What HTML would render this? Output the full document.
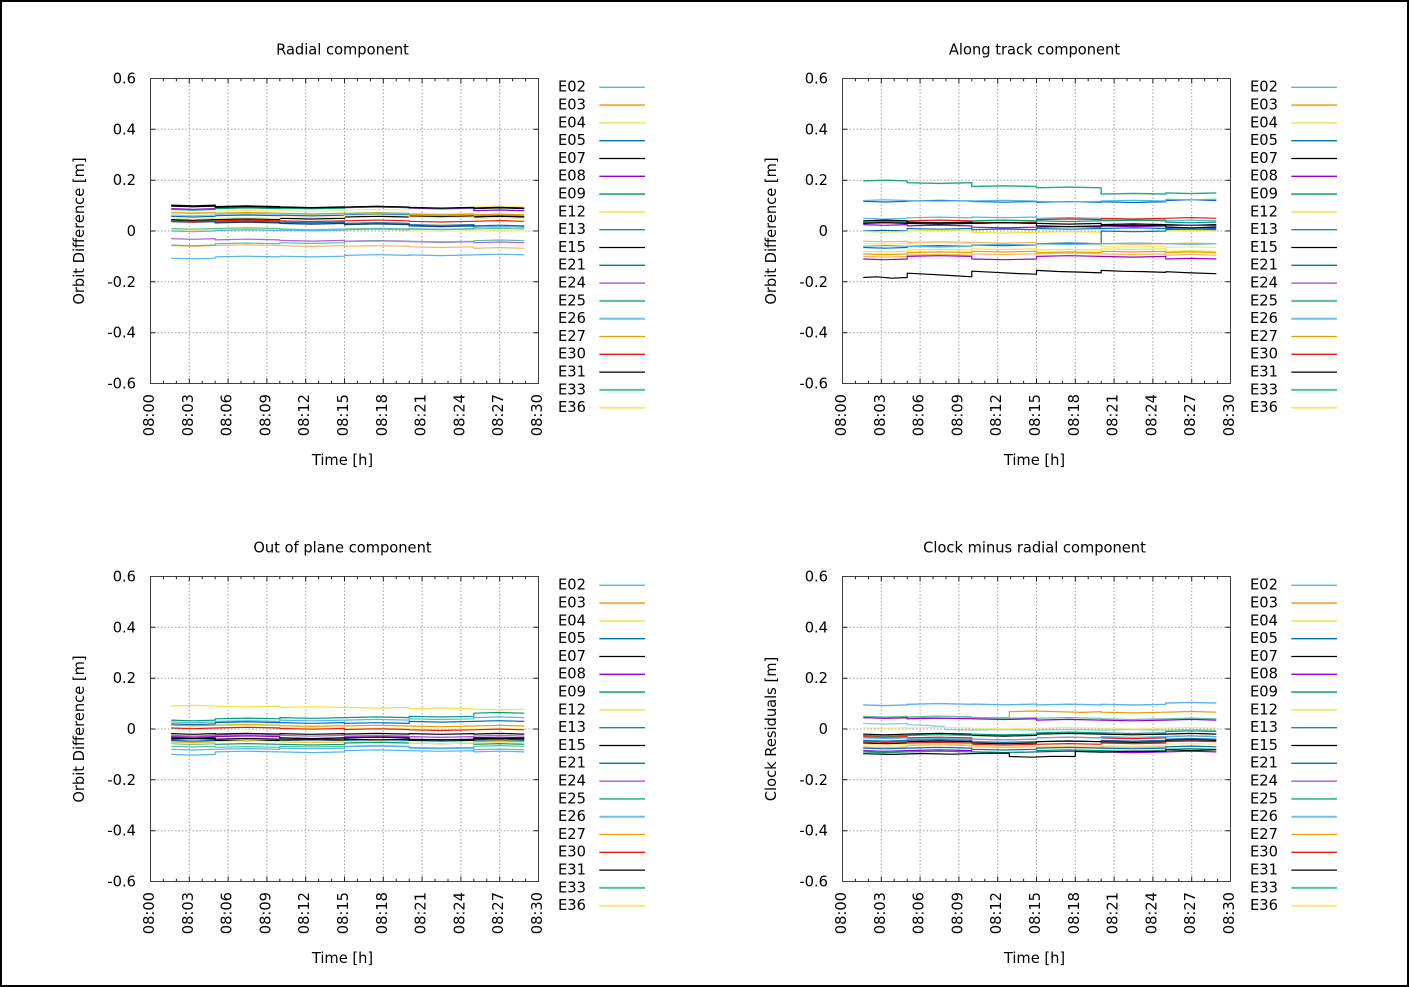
<!DOCTYPE html>
<html><head><meta charset="utf-8"><style>
html,body{margin:0;padding:0;background:#fff;}
svg{display:block;}
text{font-family:"DejaVu Sans","Liberation Sans",sans-serif;font-size:14.67px;fill:#000;}
</style></head><body>
<svg xmlns="http://www.w3.org/2000/svg" xmlns:xlink="http://www.w3.org/1999/xlink" width="1409" height="987" viewBox="0 0 1409 987">
<defs>
<g id="ax">
<path d="M189.3 78.5V383.5M228.1 78.5V383.5M266.9 78.5V383.5M305.7 78.5V383.5M344.5 78.5V383.5M383.3 78.5V383.5M422.1 78.5V383.5M460.9 78.5V383.5M499.7 78.5V383.5M150.5 129.3H538.5M150.5 180.2H538.5M150.5 231H538.5M150.5 281.8H538.5M150.5 332.7H538.5" stroke="#a0a0a0" stroke-width="1" stroke-dasharray="1.5,2" fill="none"/>
<rect x="150.5" y="78.5" width="388" height="305" fill="none" stroke="#404040" stroke-width="1"/>
<path d="M189.3 383.5v-5M189.3 78.5v5M228.1 383.5v-5M228.1 78.5v5M266.9 383.5v-5M266.9 78.5v5M305.7 383.5v-5M305.7 78.5v5M344.5 383.5v-5M344.5 78.5v5M383.3 383.5v-5M383.3 78.5v5M422.1 383.5v-5M422.1 78.5v5M460.9 383.5v-5M460.9 78.5v5M499.7 383.5v-5M499.7 78.5v5M150.5 129.3h5M538.5 129.3h-5M150.5 180.2h5M538.5 180.2h-5M150.5 231h5M538.5 231h-5M150.5 281.8h5M538.5 281.8h-5M150.5 332.7h5M538.5 332.7h-5" stroke="#202020" stroke-width="1" fill="none"/>
<path d="M163.4 383.5v-2.7M163.4 78.5v2.7M176.4 383.5v-2.7M176.4 78.5v2.7M202.2 383.5v-2.7M202.2 78.5v2.7M215.2 383.5v-2.7M215.2 78.5v2.7M241 383.5v-2.7M241 78.5v2.7M254 383.5v-2.7M254 78.5v2.7M279.8 383.5v-2.7M279.8 78.5v2.7M292.8 383.5v-2.7M292.8 78.5v2.7M318.6 383.5v-2.7M318.6 78.5v2.7M331.6 383.5v-2.7M331.6 78.5v2.7M357.4 383.5v-2.7M357.4 78.5v2.7M370.4 383.5v-2.7M370.4 78.5v2.7M396.2 383.5v-2.7M396.2 78.5v2.7M409.2 383.5v-2.7M409.2 78.5v2.7M435 383.5v-2.7M435 78.5v2.7M448 383.5v-2.7M448 78.5v2.7M473.8 383.5v-2.7M473.8 78.5v2.7M486.8 383.5v-2.7M486.8 78.5v2.7M512.6 383.5v-2.7M512.6 78.5v2.7M525.6 383.5v-2.7M525.6 78.5v2.7" stroke="#202020" stroke-width="1" fill="none"/>
<g fill="none" stroke-width="1.3">
<path d="M599.3 87.3H645" stroke="#56b4e9"/>
<path d="M599.3 105.1H645" stroke="#f0b050" stroke-width="2"/>
<path d="M599.3 122.9H645" stroke="#f3e97a" stroke-width="2"/>
<path d="M599.3 140.7H645" stroke="#0072b2"/>
<path d="M599.3 158.5H645" stroke="#000000"/>
<path d="M599.3 176.3H645" stroke="#9400d3"/>
<path d="M599.3 194.1H645" stroke="#40b090" stroke-width="2"/>
<path d="M599.3 211.9H645" stroke="#f3e97a" stroke-width="2"/>
<path d="M599.3 229.7H645" stroke="#2080c0"/>
<path d="M599.3 247.5H645" stroke="#000000"/>
<path d="M599.3 265.3H645" stroke="#0072b2"/>
<path d="M599.3 283.1H645" stroke="#a040e0"/>
<path d="M599.3 300.9H645" stroke="#50c0a0" stroke-width="2"/>
<path d="M599.3 318.7H645" stroke="#70c0ee" stroke-width="2"/>
<path d="M599.3 336.5H645" stroke="#e69f00"/>
<path d="M599.3 354.3H645" stroke="#e51e10"/>
<path d="M599.3 372.1H645" stroke="#000000"/>
<path d="M599.3 389.9H645" stroke="#50c0a0" stroke-width="2"/>
<path d="M599.3 407.7H645" stroke="#f3e97a" stroke-width="2"/>
</g>
</g>
</defs>
<rect x="1" y="1" width="1407" height="985" fill="#fff" stroke="#000" stroke-width="2"/>

<use xlink:href="#ax" href="#ax"/>
<use xlink:href="#ax" href="#ax" transform="translate(692,0)"/>
<use xlink:href="#ax" href="#ax" transform="translate(0,498)"/>
<use xlink:href="#ax" href="#ax" transform="translate(692,498)"/>

<!-- DATA panel 1 -->
<g fill="none" stroke-width="1.2" stroke-linejoin="round">
<polyline stroke="#56b4e9" points="171.2,258.2 193,258.9 215.2,258.2 215.2,256.9 247,256.2 279.8,256.9 279.8,256.2 312,256.9 344.5,256.2 344.5,255.4 377,254.7 409.2,255.4 409.2,254.9 441,255.6 473.8,254.9 473.8,254.9 499,254.2 524.3,254.9"/>
<polyline stroke="#f0b860" points="171.2,245.7 193,246.4 215.2,245.7 215.2,245.5 247,244.8 279.8,245.5 279.8,245.7 312,246.4 344.5,245.7 344.5,246.3 377,245.6 409.2,246.3 409.2,246.8 441,247.5 473.8,246.8 473.8,248.3 499,247.6 524.3,248.3"/>
<polyline stroke="#f3e985" points="171.2,211.9 193,212.6 215.2,211.9 215.2,211.2 247,210.5 279.8,211.2 279.8,210.7 312,211.4 344.5,210.7 344.5,210.2 377,209.5 409.2,210.2 409.2,208.6 441,209.3 473.8,208.6 473.8,206.9 499,206.2 524.3,206.9"/>
<polyline stroke="#0072b2" points="171.2,216.3 193,217 215.2,216.3 215.2,215.7 247,215 279.8,215.7 279.8,215.2 312,215.9 344.5,215.2 344.5,215 377,214.3 409.2,215 409.2,215.7 441,216.4 473.8,215.7 473.8,216.3 499,215.6 524.3,216.3"/>
<polyline stroke="#000000" points="171.2,205.1 193,205.8 215.2,205.1 215.2,206.6 247,205.9 279.8,206.6 279.8,206.9 312,207.6 344.5,206.9 344.5,207.1 377,206.4 409.2,207.1 409.2,207.6 441,208.3 473.8,207.6 473.8,208.6 499,207.9 524.3,208.6"/>
<polyline stroke="#9400d3" points="171.2,208.6 193,209.3 215.2,208.6 215.2,207.6 247,206.9 279.8,207.6 279.8,207.4 312,208.1 344.5,207.4 344.5,207.6 377,206.9 409.2,207.6 409.2,208.1 441,208.8 473.8,208.1 473.8,210.7 499,210 524.3,210.7"/>
<polyline stroke="#009e73" points="171.2,209.4 193,210.1 215.2,209.4 215.2,208.6 247,207.9 279.8,208.6 279.8,208.1 312,208.8 344.5,208.1 344.5,207.6 377,206.9 409.2,207.6 409.2,207.6 441,208.3 473.8,207.6 473.8,208.1 499,207.4 524.3,208.1"/>
<polyline stroke="#f3e985" points="171.2,229.7 193,230.4 215.2,229.7 247,229 279.8,229.7 312,230.4 344.5,229.7 344.5,230 377,229.3 409.2,230 409.2,230.5 441,231.2 473.8,230.5 473.8,231 499,230.3 524.3,231"/>
<polyline stroke="#0072b2" points="171.2,220.8 193,221.5 215.2,220.8 215.2,221.9 247,221.2 279.8,221.9 279.8,222.1 312,222.8 344.5,222.1 344.5,223.4 377,222.7 409.2,223.4 409.2,224.6 441,225.3 473.8,224.6 473.8,225.9 499,225.2 524.3,225.9"/>
<polyline stroke="#000000" points="171.2,219.6 193,220.3 215.2,219.6 247,218.9 279.8,219.6 279.8,218.3 312,219 344.5,218.3 344.5,217 377,216.3 409.2,217 409.2,216.3 441,217 473.8,216.3 473.8,217 499,216.3 524.3,217"/>
<polyline stroke="#1a3a5a" points="171.2,221.6 193,222.3 215.2,221.6 215.2,222.9 247,222.2 279.8,222.9 279.8,223.4 312,224.1 344.5,223.4 344.5,224.6 377,223.9 409.2,224.6 409.2,225.9 441,226.6 473.8,225.9 473.8,227.2 499,226.5 524.3,227.2"/>
<polyline stroke="#b060e0" points="171.2,238.6 193,239.3 215.2,238.6 215.2,239.9 247,239.2 279.8,239.9 279.8,240.4 312,241.1 344.5,240.4 344.5,241.2 377,240.5 409.2,241.2 409.2,241.7 441,242.4 473.8,241.7 473.8,242.7 499,242 524.3,242.7"/>
<polyline stroke="#5cc0a0" points="171.2,245 193,245.7 215.2,245 215.2,243.7 247,243 279.8,243.7 279.8,242.7 312,243.4 344.5,242.7 344.5,241.7 377,241 409.2,241.7 409.2,241.2 441,241.9 473.8,241.2 473.8,240.7 499,240 524.3,240.7"/>
<polyline stroke="#80c8ee" points="171.2,215 193,215.7 215.2,215 215.2,214.5 247,213.8 279.8,214.5 279.8,213.7 312,214.4 344.5,213.7 344.5,213.2 377,212.5 409.2,213.2 409.2,213.7 441,214.4 473.8,213.7 473.8,215.2 499,214.5 524.3,215.2"/>
<polyline stroke="#e69f00" points="171.2,212.7 193,213.4 215.2,212.7 215.2,213.2 247,212.5 279.8,213.2 312,213.9 344.5,213.2 344.5,213.7 377,213 409.2,213.7 409.2,214.2 441,214.9 473.8,214.2 473.8,214.7 499,214 524.3,214.7"/>
<polyline stroke="#e51e10" points="171.2,221.3 193,222 215.2,221.3 215.2,220.8 247,220.1 279.8,220.8 312,221.5 344.5,220.8 377,220.1 409.2,220.8 409.2,221.3 441,222 473.8,221.3 499,220.6 524.3,221.3"/>
<polyline stroke="#000000" points="171.2,206.1 193,206.8 215.2,206.1 215.2,207.1 247,206.4 279.8,207.1 312,207.8 344.5,207.1 377,206.4 409.2,207.1 409.2,207.4 441,208.1 473.8,207.4 473.8,208.1 499,207.4 524.3,208.1"/>
<polyline stroke="#5cc0a0" points="171.2,228.5 193,229.2 215.2,228.5 247,227.8 279.8,228.5 279.8,229 312,229.7 344.5,229 377,228.3 409.2,229 441,229.7 473.8,229 499,228.3 524.3,229"/>
<polyline stroke="#f3e985" points="171.2,218.3 193,219 215.2,218.3 247,217.6 279.8,218.3 279.8,217 312,217.7 344.5,217 344.5,215.7 377,215 409.2,215.7 409.2,217 441,217.7 473.8,217 473.8,218.3 499,217.6 524.3,218.3"/>
<polyline stroke="#56b4e9" points="171.2,231 193,231.7 215.2,231 215.2,230.5 247,229.8 279.8,230.5 279.8,230.2 312,230.9 344.5,230.2 344.5,229.7 377,229 409.2,229.7 409.2,228.5 441,229.2 473.8,228.5 473.8,227.2 499,226.5 524.3,227.2"/>
</g>

<!-- DATA panel 2 -->
<g fill="none" stroke-width="1.2" stroke-linejoin="round" transform="translate(692,0)">
<polyline stroke="#20a880" stroke-width="1.4" points="171.2,180.9 193,180.2 215.2,180.9 215.2,182.7 247,183.4 279.8,182.7 279.8,186.5 312,185.8 344.5,186.5 344.5,187.8 377,187.1 409.2,187.8 409.2,194.1 441,193.4 473.8,194.1 473.8,192.9 499,193.6 524.3,192.9"/>
<polyline stroke="#0072b2" points="171.2,201.3 193,202 215.2,201.3 215.2,201 247,200.3 279.8,201 279.8,201.5 312,202.2 344.5,201.5 344.5,202.3 377,201.6 409.2,202.3 409.2,201.8 441,202.5 473.8,201.8 473.8,200.5 499,199.8 524.3,200.5"/>
<polyline stroke="#56b4e9" points="171.2,200.5 193,199.8 215.2,200.5 247,201.2 279.8,200.5 279.8,201 312,200.3 344.5,201 344.5,201.3 377,202 409.2,201.3 409.2,201 441,200.3 473.8,201 473.8,199.2 499,199.9 524.3,199.2"/>
<polyline stroke="#56b4e9" points="171.2,218.3 193,219 215.2,218.3 215.2,217.8 247,217.1 279.8,217.8 279.8,217 312,217.7 344.5,217 344.5,218.3 377,217.6 409.2,218.3 409.2,219.6 441,220.3 473.8,219.6 473.8,220.8 499,220.1 524.3,220.8"/>
<polyline stroke="#e51e10" points="171.2,222.1 193,222.8 215.2,222.1 215.2,220.8 247,220.1 279.8,220.8 279.8,222.1 312,222.8 344.5,222.1 344.5,219.6 377,218.9 409.2,219.6 409.2,218.3 441,219 473.8,218.3 499,217.6 524.3,218.3"/>
<polyline stroke="#009e73" points="171.2,222.1 193,221.4 215.2,222.1 247,222.8 279.8,222.1 279.8,220.8 312,220.1 344.5,220.8 377,221.5 409.2,220.8 441,220.1 473.8,220.8 473.8,222.1 499,222.8 524.3,222.1"/>
<polyline stroke="#000000" points="171.2,223.4 193,222.7 215.2,223.4 215.2,222.1 247,222.8 279.8,222.1 279.8,223.4 312,222.7 344.5,223.4 377,224.1 409.2,223.4 409.2,224.6 441,223.9 473.8,224.6 499,225.3 524.3,224.6"/>
<polyline stroke="#9400d3" points="171.2,224.6 193,225.3 215.2,224.6 215.2,225.9 247,225.2 279.8,225.9 279.8,227.2 312,227.9 344.5,227.2 377,226.5 409.2,227.2 409.2,225.9 441,226.6 473.8,225.9 499,225.2 524.3,225.9"/>
<polyline stroke="#0072b2" points="171.2,231 193,230.3 215.2,231 215.2,228.5 247,229.2 279.8,228.5 279.8,229.7 312,229 344.5,229.7 344.5,228.5 377,229.2 409.2,228.5 441,227.8 473.8,228.5 499,229.2 524.3,228.5"/>
<polyline stroke="#000000" points="171.2,220.8 193,220.1 215.2,220.8 215.2,223.4 247,224.1 279.8,223.4 312,222.7 344.5,223.4 344.5,225.9 377,226.6 409.2,225.9 441,225.2 473.8,225.9 473.8,227.2 499,227.9 524.3,227.2"/>
<polyline stroke="#f0e442" points="171.2,231.5 193,232.2 215.2,231.5 215.2,231 247,230.3 279.8,231 279.8,232.3 312,233 344.5,232.3 377,231.6 409.2,232.3 409.2,231 441,231.7 473.8,231 499,230.3 524.3,231"/>
<polyline stroke="#f0b860" points="171.2,241.2 193,241.9 215.2,241.2 215.2,242.4 247,241.7 279.8,242.4 312,243.1 344.5,242.4 344.5,243.7 377,243 409.2,243.7 441,244.4 473.8,243.7 499,243 524.3,243.7"/>
<polyline stroke="#f3e985" points="171.2,243.7 193,244.4 215.2,243.7 247,243 279.8,243.7 279.8,245 312,245.7 344.5,245 377,244.3 409.2,245 409.2,246.3 441,247 473.8,246.3 473.8,247.5 499,246.8 524.3,247.5"/>
<polyline stroke="#0072b2" points="171.2,247.5 193,248.2 215.2,247.5 215.2,246.3 247,245.6 279.8,246.3 279.8,245 312,245.7 344.5,245 344.5,243.7 377,243 409.2,243.7 409.2,231 441,231.7 473.8,231 473.8,229.7 499,229 524.3,229.7"/>
<polyline stroke="#56b4e9" points="171.2,246.3 193,245.6 215.2,246.3 247,247 279.8,246.3 279.8,245 312,244.3 344.5,245 344.5,243.7 377,244.4 409.2,243.7 441,243 473.8,243.7 499,244.4 524.3,243.7"/>
<polyline stroke="#f0e442" points="171.2,251.3 193,252 215.2,251.3 215.2,250.1 247,249.4 279.8,250.1 279.8,248.8 312,249.5 344.5,248.8 344.5,250.1 377,249.4 409.2,250.1 409.2,248.8 441,249.5 473.8,248.8 473.8,251.3 499,250.6 524.3,251.3"/>
<polyline stroke="#e69f00" points="171.2,253.9 193,254.6 215.2,253.9 215.2,252.6 247,251.9 279.8,252.6 279.8,251.3 312,252 344.5,251.3 344.5,252.6 377,251.9 409.2,252.6 409.2,251.3 441,252 473.8,251.3 473.8,252.6 499,251.9 524.3,252.6"/>
<polyline stroke="#f0b860" points="171.2,256.4 193,257.1 215.2,256.4 215.2,255.1 247,254.4 279.8,255.1 279.8,253.9 312,254.6 344.5,253.9 377,253.2 409.2,253.9 441,254.6 473.8,253.9 473.8,255.1 499,254.4 524.3,255.1"/>
<polyline stroke="#9400d3" points="171.2,259 193,259.7 215.2,259 215.2,256.4 247,255.7 279.8,256.4 279.8,259 312,259.7 344.5,259 344.5,256.4 377,255.7 409.2,256.4 441,257.1 473.8,256.4 473.8,259 499,258.3 524.3,259"/>
<polyline stroke="#000000" points="171.2,277.5 185,276.8 200,278.2 215.2,277.5 215.2,273.2 235,274.2 258,275.5 279.8,276.8 279.8,271.2 300,272.2 322,273.4 344.5,274.2 344.5,270.4 366,271.5 388,272.1 409.2,272.9 409.2,270.4 431,271.3 452,271.6 473.8,272.4 473.8,271.7 499,272.9 524.3,273.7"/>
</g>

<!-- DATA panel 3 -->
<g fill="none" stroke-width="1.2" stroke-linejoin="round" transform="translate(0,498)">
<polyline stroke="#f0e442" points="171.2,208.1 193,207.4 215.2,208.1 247,208.8 279.8,208.1 279.8,209.4 312,208.7 344.5,209.4 377,210.1 409.2,209.4 409.2,210.7 441,210 473.8,210.7 473.8,211.2 499,211.9 524.3,211.2"/>
<polyline stroke="#009e73" points="171.2,222.1 193,222.8 215.2,222.1 215.2,220.8 247,220.1 279.8,220.8 279.8,219.6 312,220.3 344.5,219.6 377,218.9 409.2,219.6 409.2,218.3 441,219 473.8,218.3 473.8,215.2 499,214.5 524.3,215.2"/>
<polyline stroke="#56b4e9" points="171.2,223.9 193,224.6 215.2,223.9 215.2,223.4 247,222.7 279.8,223.4 279.8,222.1 312,222.8 344.5,222.1 377,221.4 409.2,222.1 409.2,220.8 441,221.5 473.8,220.8 473.8,219.6 499,218.9 524.3,219.6"/>
<polyline stroke="#0072b2" points="171.2,225.9 193,226.6 215.2,225.9 215.2,224.6 247,223.9 279.8,224.6 312,225.3 344.5,224.6 344.5,225.4 377,224.7 409.2,225.4 409.2,223.4 441,224.1 473.8,223.4 499,222.7 524.3,223.4"/>
<polyline stroke="#e69f00" points="171.2,227.2 193,227.9 215.2,227.2 247,226.5 279.8,227.2 279.8,227.7 312,228.4 344.5,227.7 344.5,228 377,227.3 409.2,228 441,228.7 473.8,228 499,227.3 524.3,228"/>
<polyline stroke="#f3e985" points="171.2,229.7 193,230.4 215.2,229.7 247,229 279.8,229.7 312,230.4 344.5,229.7 344.5,231 377,230.3 409.2,231 441,231.7 473.8,231 499,230.3 524.3,231"/>
<polyline stroke="#e51e10" points="171.2,230 193,230.7 215.2,230 247,229.3 279.8,230 279.8,230.5 312,231.2 344.5,230.5 344.5,231.5 377,230.8 409.2,231.5 409.2,231.8 441,232.5 473.8,231.8 499,231.1 524.3,231.8"/>
<polyline stroke="#000000" points="171.2,235.6 193,236.3 215.2,235.6 215.2,236.1 247,235.4 279.8,236.1 279.8,235.6 312,236.3 344.5,235.6 344.5,236.1 377,235.4 409.2,236.1 409.2,235.6 441,236.3 473.8,235.6 473.8,236.1 499,235.4 524.3,236.1"/>
<polyline stroke="#9400d3" points="171.2,238.6 193,239.3 215.2,238.6 247,237.9 279.8,238.6 279.8,239.9 312,240.6 344.5,239.9 344.5,238.6 377,237.9 409.2,238.6 441,239.3 473.8,238.6 473.8,239.9 499,239.2 524.3,239.9"/>
<polyline stroke="#000000" points="171.2,239.9 193,240.6 215.2,239.9 215.2,241.2 247,240.5 279.8,241.2 279.8,239.9 312,240.6 344.5,239.9 377,239.2 409.2,239.9 409.2,241.2 441,241.9 473.8,241.2 499,240.5 524.3,241.2"/>
<polyline stroke="#0072b2" points="171.2,242.4 193,243.1 215.2,242.4 247,241.7 279.8,242.4 279.8,241.2 312,241.9 344.5,241.2 344.5,242.4 377,241.7 409.2,242.4 441,243.1 473.8,242.4 499,241.7 524.3,242.4"/>
<polyline stroke="#e69f00" points="171.2,243.7 193,244.4 215.2,243.7 215.2,242.4 247,241.7 279.8,242.4 279.8,243.7 312,244.4 344.5,243.7 344.5,245 377,244.3 409.2,245 441,245.7 473.8,245 473.8,243.7 499,243 524.3,243.7"/>
<polyline stroke="#009e73" points="171.2,245.5 193,246.2 215.2,245.5 215.2,246.3 247,245.6 279.8,246.3 312,247 344.5,246.3 344.5,245 377,244.3 409.2,245 441,245.7 473.8,245 473.8,246.3 499,245.6 524.3,246.3"/>
<polyline stroke="#000000" points="171.2,241.2 193,240.5 215.2,241.2 215.2,242.4 247,243.1 279.8,242.4 312,241.7 344.5,242.4 344.5,241.2 377,241.9 409.2,241.2 409.2,242.4 441,241.7 473.8,242.4 473.8,239.9 499,240.6 524.3,239.9"/>
<polyline stroke="#5cc0a0" points="171.2,248.3 193,249 215.2,248.3 215.2,249.3 247,248.6 279.8,249.3 279.8,248.3 312,249 344.5,248.3 377,247.6 409.2,248.3 409.2,249.3 441,250 473.8,249.3 473.8,248.3 499,247.6 524.3,248.3"/>
<polyline stroke="#56b4e9" points="171.2,251.3 193,252 215.2,251.3 247,250.6 279.8,251.3 279.8,250.1 312,250.8 344.5,250.1 344.5,248.8 377,248.1 409.2,248.8 409.2,250.1 441,250.8 473.8,250.1 473.8,251.8 499,251.1 524.3,251.8"/>
<polyline stroke="#56b4e9" points="171.2,256.4 193,257.1 215.2,256.4 215.2,253.9 247,253.2 279.8,253.9 312,254.6 344.5,253.9 344.5,252.6 377,251.9 409.2,252.6 441,253.3 473.8,252.6 473.8,253.9 499,253.2 524.3,253.9"/>
<polyline stroke="#b060e0" points="171.2,237.4 193,238.1 215.2,237.4 247,236.7 279.8,237.4 312,238.1 344.5,237.4 344.5,238.1 377,237.4 409.2,238.1 409.2,238.6 441,239.3 473.8,238.6 473.8,238.1 499,237.4 524.3,238.1"/>
<polyline stroke="#f3e985" points="171.2,245 193,245.7 215.2,245 215.2,243.7 247,243 279.8,243.7 279.8,243.2 312,243.9 344.5,243.2 344.5,243.7 377,243 409.2,243.7 409.2,245 441,245.7 473.8,245 499,244.3 524.3,245"/>
</g>

<!-- DATA panel 4 -->
<g fill="none" stroke-width="1.2" stroke-linejoin="round" transform="translate(692,498)">
<polyline stroke="#56b4e9" stroke-width="1.4" points="171.2,206.9 193,207.6 215.2,206.9 215.2,206.3 247,205.6 279.8,206.3 279.8,206.1 312,206.8 344.5,206.1 344.5,206.9 377,206.2 409.2,206.9 409.2,206.3 441,207 473.8,206.3 473.8,205.1 499,204.4 524.3,205.1"/>
<polyline stroke="#e69f00" points="171.2,219.6 200,220.3 230,219.6 260,220.3 290,219.6 317.3,219.6 317.3,213.7 340,213 365,213.7 390,214.4 409.2,213.7 409.2,214.2 441,214.9 473.8,214.2 499,213.5 524.3,214.2"/>
<polyline stroke="#5cc0a0" points="171.2,218.3 193,219 215.2,218.3 215.2,218.8 247,218.1 279.8,218.8 279.8,219.6 312,220.3 344.5,219.6 344.5,220.3 377,219.6 409.2,220.3 409.2,220.8 441,221.5 473.8,220.8 499,220.1 524.3,220.8"/>
<polyline stroke="#9400d3" points="171.2,219.6 193,220.3 215.2,219.6 215.2,220.8 247,220.1 279.8,220.8 312,221.5 344.5,220.8 344.5,222.1 377,221.4 409.2,222.1 441,222.8 473.8,222.1 499,221.4 524.3,222.1"/>
<polyline stroke="#80c8ee" points="171.2,225.4 193,226.1 215.2,225.4 215.2,226.7 235,227.4 252.7,228.5 252.7,231.5 280,232.2 312,231.5 344.5,232.2 377,231.5 409.2,232.2 441,231.5 473.8,232.2 499,231.5 524.3,232.2"/>
<polyline stroke="#f3e985" points="171.2,229.7 193,230.4 215.2,229.7 215.2,230 247,229.3 279.8,230 279.8,230.2 312,230.9 344.5,230.2 377,229.5 409.2,230.2 441,230.9 473.8,230.2 499,229.5 524.3,230.2"/>
<polyline stroke="#000000" points="171.2,236.1 193,236.8 215.2,236.1 247,235.4 279.8,236.1 279.8,237.4 312,238.1 344.5,237.4 344.5,236.1 377,235.4 409.2,236.1 441,236.8 473.8,236.1 499,235.4 524.3,236.1"/>
<polyline stroke="#009e73" points="171.2,237.4 193,238.1 215.2,237.4 247,236.7 279.8,237.4 279.8,236.1 312,236.8 344.5,236.1 344.5,234.8 377,234.1 409.2,234.8 441,235.5 473.8,234.8 473.8,233.5 499,232.8 524.3,233.5"/>
<polyline stroke="#e51e10" points="171.2,238.6 193,239.3 215.2,238.6 215.2,239.9 247,239.2 279.8,239.9 279.8,241.2 312,241.9 344.5,241.2 344.5,239.9 377,239.2 409.2,239.9 441,240.6 473.8,239.9 473.8,238.6 499,237.9 524.3,238.6"/>
<polyline stroke="#56b4e9" points="171.2,239.9 193,240.6 215.2,239.9 215.2,241.2 247,240.5 279.8,241.2 312,241.9 344.5,241.2 344.5,239.9 377,239.2 409.2,239.9 409.2,238.6 441,239.3 473.8,238.6 499,237.9 524.3,238.6"/>
<polyline stroke="#0072b2" points="171.2,242.4 193,243.1 215.2,242.4 247,241.7 279.8,242.4 279.8,243.7 312,244.4 344.5,243.7 377,243 409.2,243.7 409.2,242.4 441,243.1 473.8,242.4 473.8,241.2 499,240.5 524.3,241.2"/>
<polyline stroke="#000000" points="171.2,245 193,245.7 215.2,245 215.2,243.7 247,243 279.8,243.7 279.8,245 312,245.7 344.5,245 344.5,243.7 377,243 409.2,243.7 441,244.4 473.8,243.7 473.8,242.4 499,241.7 524.3,242.4"/>
<polyline stroke="#e51e10" points="171.2,243.7 193,244.4 215.2,243.7 215.2,245 247,244.3 279.8,245 279.8,246.3 312,247 344.5,246.3 377,245.6 409.2,246.3 409.2,245 441,245.7 473.8,245 473.8,243.7 499,243 524.3,243.7"/>
<polyline stroke="#f3e985" points="171.2,246.3 193,247 215.2,246.3 247,245.6 279.8,246.3 279.8,247.5 312,248.2 344.5,247.5 344.5,248.8 377,248.1 409.2,248.8 409.2,247.5 441,248.2 473.8,247.5 473.8,246.3 499,245.6 524.3,246.3"/>
<polyline stroke="#f0b860" points="171.2,248.8 193,249.5 215.2,248.8 215.2,247.5 247,246.8 279.8,247.5 279.8,248.8 312,249.5 344.5,248.8 344.5,250.1 377,249.4 409.2,250.1 409.2,248.8 441,249.5 473.8,248.8 499,248.1 524.3,248.8"/>
<polyline stroke="#0072b2" points="171.2,250.1 193,250.8 215.2,250.1 247,249.4 279.8,250.1 279.8,251.3 312,252 344.5,251.3 344.5,250.1 377,249.4 409.2,250.1 441,250.8 473.8,250.1 473.8,248.8 499,248.1 524.3,248.8"/>
<polyline stroke="#9400d3" points="171.2,252.6 193,253.3 215.2,252.6 247,251.9 279.8,252.6 279.8,253.9 312,254.6 344.5,253.9 377,253.2 409.2,253.9 441,254.6 473.8,253.9 499,253.2 524.3,253.9"/>
<polyline stroke="#009e73" points="171.2,253.9 193,254.6 215.2,253.9 247,253.2 279.8,253.9 312,254.6 344.5,253.9 344.5,252.6 377,251.9 409.2,252.6 441,253.3 473.8,252.6 473.8,251.3 499,250.6 524.3,251.3"/>
<polyline stroke="#000000" points="171.2,255.7 200,256.4 230,255.5 260,256.2 290,255.3 317.3,255.1 317.3,258.5 340,259.2 360,258.3 383.3,258.5 383.3,253.4 409,254.1 441,253.2 473.8,253.4 473.8,251.8 499,252.5 524.3,251.8"/>
</g>

<!-- Panel 1 text -->
<g>
<text x="342.5" y="54.5" text-anchor="middle">Radial component</text>
<text transform="translate(84,231) rotate(-90)" text-anchor="middle">Orbit Difference [m]</text>
<text x="342.5" y="465" text-anchor="middle">Time [h]</text>
<text text-anchor="end"><tspan x="136" y="83.5">0.6</tspan><tspan x="136" y="134.3">0.4</tspan><tspan x="136" y="185.2">0.2</tspan><tspan x="136" y="236">0</tspan><tspan x="136" y="286.8">-0.2</tspan><tspan x="136" y="337.7">-0.4</tspan><tspan x="136" y="388.5">-0.6</tspan></text>
<text text-anchor="end" transform="rotate(-90)"><tspan x="-394" y="154">08:00</tspan><tspan x="-394" y="192.8">08:03</tspan><tspan x="-394" y="231.6">08:06</tspan><tspan x="-394" y="270.4">08:09</tspan><tspan x="-394" y="309.2">08:12</tspan><tspan x="-394" y="348">08:15</tspan><tspan x="-394" y="386.8">08:18</tspan><tspan x="-394" y="425.6">08:21</tspan><tspan x="-394" y="464.4">08:24</tspan><tspan x="-394" y="503.2">08:27</tspan><tspan x="-394" y="542">08:30</tspan></text>
<text><tspan x="558" y="91.7">E02</tspan><tspan x="558" y="109.5">E03</tspan><tspan x="558" y="127.3">E04</tspan><tspan x="558" y="145.1">E05</tspan><tspan x="558" y="162.9">E07</tspan><tspan x="558" y="180.7">E08</tspan><tspan x="558" y="198.5">E09</tspan><tspan x="558" y="216.3">E12</tspan><tspan x="558" y="234.1">E13</tspan><tspan x="558" y="251.9">E15</tspan><tspan x="558" y="269.7">E21</tspan><tspan x="558" y="287.5">E24</tspan><tspan x="558" y="305.3">E25</tspan><tspan x="558" y="323.1">E26</tspan><tspan x="558" y="340.9">E27</tspan><tspan x="558" y="358.7">E30</tspan><tspan x="558" y="376.5">E31</tspan><tspan x="558" y="394.3">E33</tspan><tspan x="558" y="412.1">E36</tspan></text>
</g>

<!-- Panel 2 text -->
<g transform="translate(692,0)">
<text x="342.5" y="54.5" text-anchor="middle">Along track component</text>
<text transform="translate(84,231) rotate(-90)" text-anchor="middle">Orbit Difference [m]</text>
<text x="342.5" y="465" text-anchor="middle">Time [h]</text>
<text text-anchor="end"><tspan x="136" y="83.5">0.6</tspan><tspan x="136" y="134.3">0.4</tspan><tspan x="136" y="185.2">0.2</tspan><tspan x="136" y="236">0</tspan><tspan x="136" y="286.8">-0.2</tspan><tspan x="136" y="337.7">-0.4</tspan><tspan x="136" y="388.5">-0.6</tspan></text>
<text text-anchor="end" transform="rotate(-90)"><tspan x="-394" y="154">08:00</tspan><tspan x="-394" y="192.8">08:03</tspan><tspan x="-394" y="231.6">08:06</tspan><tspan x="-394" y="270.4">08:09</tspan><tspan x="-394" y="309.2">08:12</tspan><tspan x="-394" y="348">08:15</tspan><tspan x="-394" y="386.8">08:18</tspan><tspan x="-394" y="425.6">08:21</tspan><tspan x="-394" y="464.4">08:24</tspan><tspan x="-394" y="503.2">08:27</tspan><tspan x="-394" y="542">08:30</tspan></text>
<text><tspan x="558" y="91.7">E02</tspan><tspan x="558" y="109.5">E03</tspan><tspan x="558" y="127.3">E04</tspan><tspan x="558" y="145.1">E05</tspan><tspan x="558" y="162.9">E07</tspan><tspan x="558" y="180.7">E08</tspan><tspan x="558" y="198.5">E09</tspan><tspan x="558" y="216.3">E12</tspan><tspan x="558" y="234.1">E13</tspan><tspan x="558" y="251.9">E15</tspan><tspan x="558" y="269.7">E21</tspan><tspan x="558" y="287.5">E24</tspan><tspan x="558" y="305.3">E25</tspan><tspan x="558" y="323.1">E26</tspan><tspan x="558" y="340.9">E27</tspan><tspan x="558" y="358.7">E30</tspan><tspan x="558" y="376.5">E31</tspan><tspan x="558" y="394.3">E33</tspan><tspan x="558" y="412.1">E36</tspan></text>
</g>

<!-- Panel 3 text -->
<g transform="translate(0,498)">
<text x="342.5" y="54.5" text-anchor="middle">Out of plane component</text>
<text transform="translate(84,231) rotate(-90)" text-anchor="middle">Orbit Difference [m]</text>
<text x="342.5" y="465" text-anchor="middle">Time [h]</text>
<text text-anchor="end"><tspan x="136" y="83.5">0.6</tspan><tspan x="136" y="134.3">0.4</tspan><tspan x="136" y="185.2">0.2</tspan><tspan x="136" y="236">0</tspan><tspan x="136" y="286.8">-0.2</tspan><tspan x="136" y="337.7">-0.4</tspan><tspan x="136" y="388.5">-0.6</tspan></text>
<text text-anchor="end" transform="rotate(-90)"><tspan x="-394" y="154">08:00</tspan><tspan x="-394" y="192.8">08:03</tspan><tspan x="-394" y="231.6">08:06</tspan><tspan x="-394" y="270.4">08:09</tspan><tspan x="-394" y="309.2">08:12</tspan><tspan x="-394" y="348">08:15</tspan><tspan x="-394" y="386.8">08:18</tspan><tspan x="-394" y="425.6">08:21</tspan><tspan x="-394" y="464.4">08:24</tspan><tspan x="-394" y="503.2">08:27</tspan><tspan x="-394" y="542">08:30</tspan></text>
<text><tspan x="558" y="91.7">E02</tspan><tspan x="558" y="109.5">E03</tspan><tspan x="558" y="127.3">E04</tspan><tspan x="558" y="145.1">E05</tspan><tspan x="558" y="162.9">E07</tspan><tspan x="558" y="180.7">E08</tspan><tspan x="558" y="198.5">E09</tspan><tspan x="558" y="216.3">E12</tspan><tspan x="558" y="234.1">E13</tspan><tspan x="558" y="251.9">E15</tspan><tspan x="558" y="269.7">E21</tspan><tspan x="558" y="287.5">E24</tspan><tspan x="558" y="305.3">E25</tspan><tspan x="558" y="323.1">E26</tspan><tspan x="558" y="340.9">E27</tspan><tspan x="558" y="358.7">E30</tspan><tspan x="558" y="376.5">E31</tspan><tspan x="558" y="394.3">E33</tspan><tspan x="558" y="412.1">E36</tspan></text>
</g>

<!-- Panel 4 text -->
<g transform="translate(692,498)">
<text x="342.5" y="54.5" text-anchor="middle">Clock minus radial component</text>
<text transform="translate(84,231) rotate(-90)" text-anchor="middle">Clock Residuals [m]</text>
<text x="342.5" y="465" text-anchor="middle">Time [h]</text>
<text text-anchor="end"><tspan x="136" y="83.5">0.6</tspan><tspan x="136" y="134.3">0.4</tspan><tspan x="136" y="185.2">0.2</tspan><tspan x="136" y="236">0</tspan><tspan x="136" y="286.8">-0.2</tspan><tspan x="136" y="337.7">-0.4</tspan><tspan x="136" y="388.5">-0.6</tspan></text>
<text text-anchor="end" transform="rotate(-90)"><tspan x="-394" y="154">08:00</tspan><tspan x="-394" y="192.8">08:03</tspan><tspan x="-394" y="231.6">08:06</tspan><tspan x="-394" y="270.4">08:09</tspan><tspan x="-394" y="309.2">08:12</tspan><tspan x="-394" y="348">08:15</tspan><tspan x="-394" y="386.8">08:18</tspan><tspan x="-394" y="425.6">08:21</tspan><tspan x="-394" y="464.4">08:24</tspan><tspan x="-394" y="503.2">08:27</tspan><tspan x="-394" y="542">08:30</tspan></text>
<text><tspan x="558" y="91.7">E02</tspan><tspan x="558" y="109.5">E03</tspan><tspan x="558" y="127.3">E04</tspan><tspan x="558" y="145.1">E05</tspan><tspan x="558" y="162.9">E07</tspan><tspan x="558" y="180.7">E08</tspan><tspan x="558" y="198.5">E09</tspan><tspan x="558" y="216.3">E12</tspan><tspan x="558" y="234.1">E13</tspan><tspan x="558" y="251.9">E15</tspan><tspan x="558" y="269.7">E21</tspan><tspan x="558" y="287.5">E24</tspan><tspan x="558" y="305.3">E25</tspan><tspan x="558" y="323.1">E26</tspan><tspan x="558" y="340.9">E27</tspan><tspan x="558" y="358.7">E30</tspan><tspan x="558" y="376.5">E31</tspan><tspan x="558" y="394.3">E33</tspan><tspan x="558" y="412.1">E36</tspan></text>
</g>
</svg>
</body></html>
